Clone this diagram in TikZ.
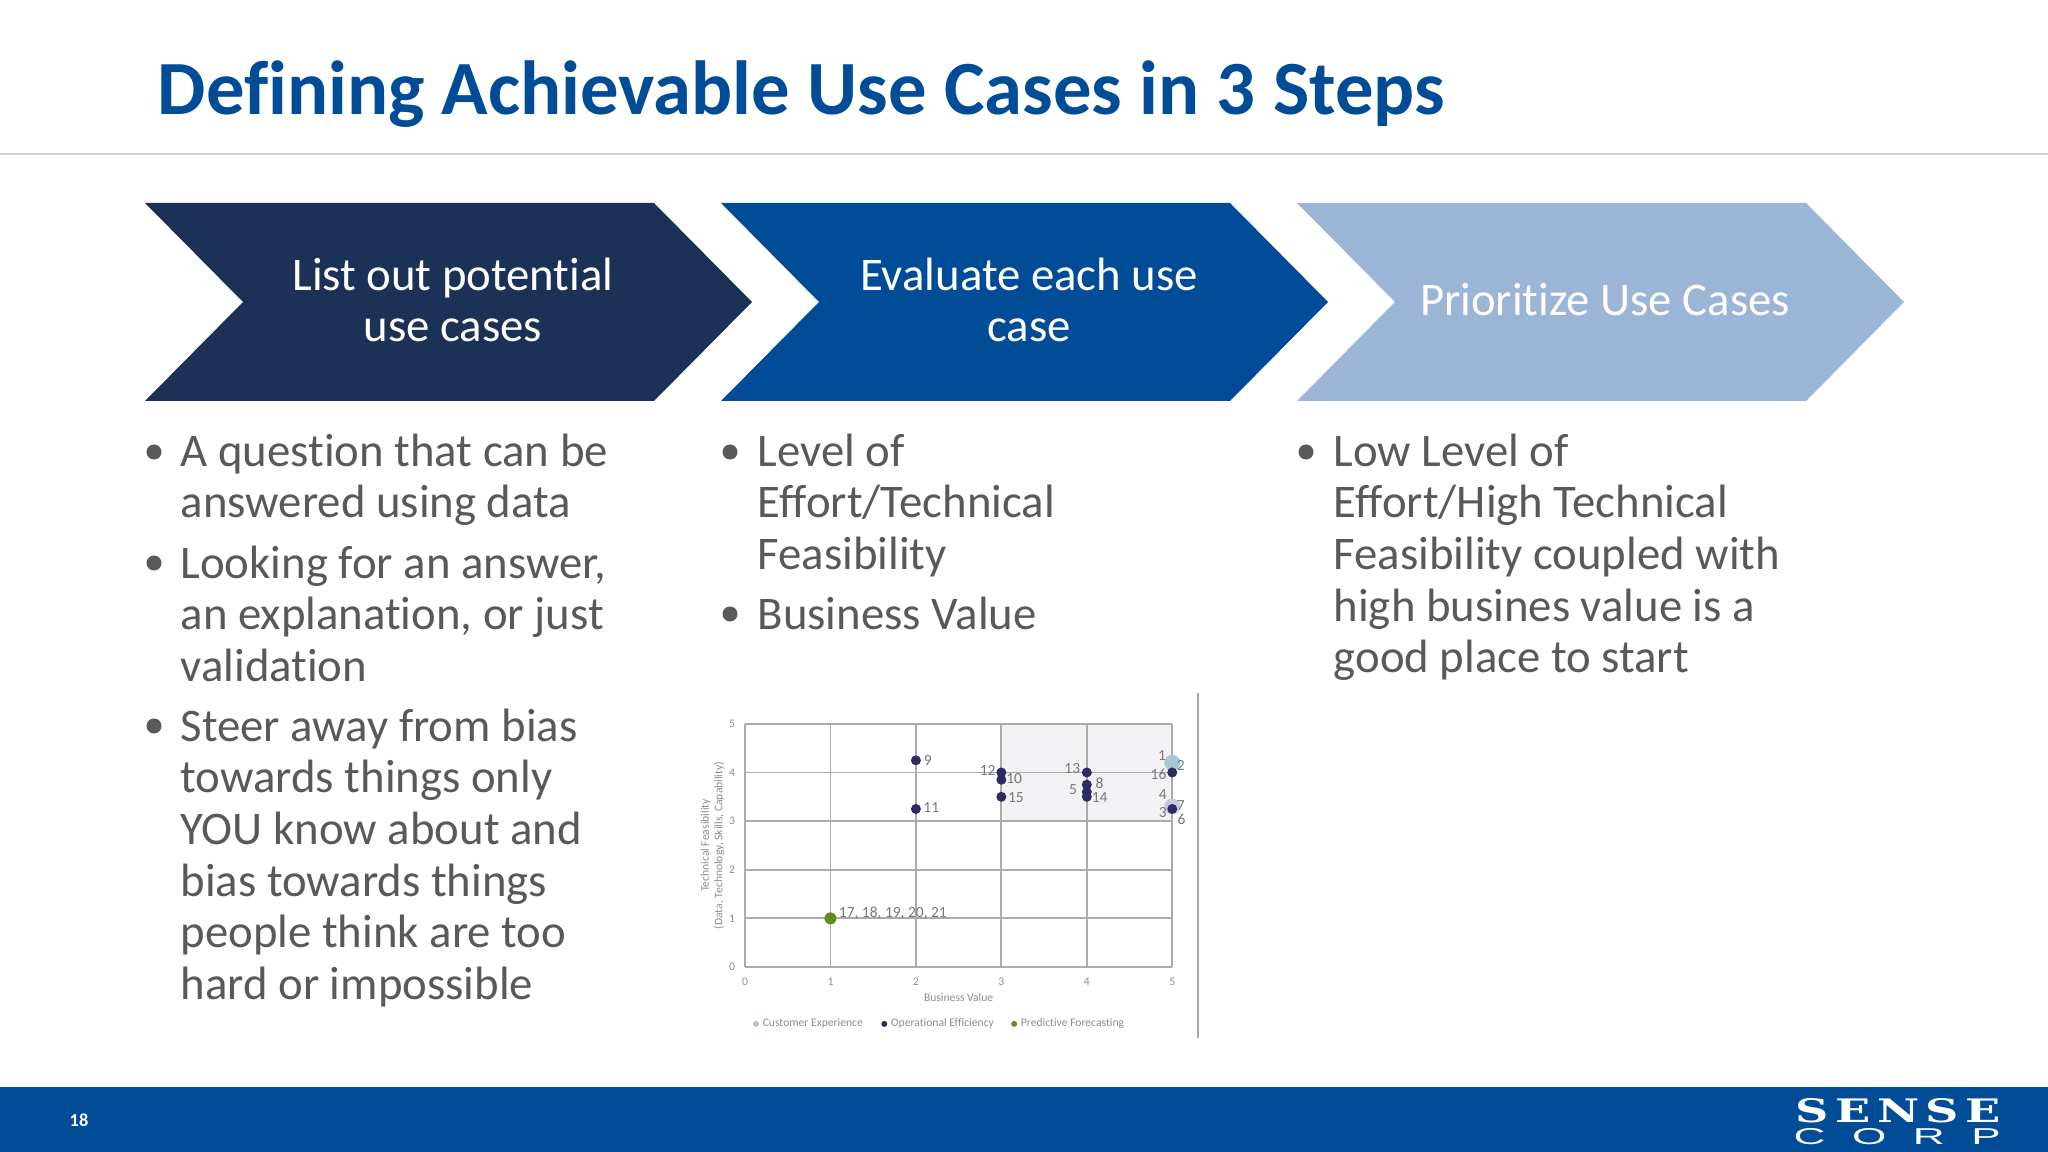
\documentclass[tikz,border=0pt]{standalone}
\usepackage{fontspec}
\setmainfont[Ligatures=NoCommon]{Carlito}
\newfontfamily\logoserif{DejaVu Serif}
\newfontfamily\logosans{Liberation Sans}
\definecolor{brandnavy}{HTML}{1B3155}
\definecolor{brandblue}{HTML}{004C97}
\definecolor{brandpale}{HTML}{9AB5D6}
\definecolor{bodygrey}{HTML}{595959}
\definecolor{gridgrey}{HTML}{ABABAB}
\definecolor{axisgrey}{HTML}{8C8C8C}
\definecolor{bandgrey}{HTML}{F2F2F5}
\definecolor{dotnavy}{HTML}{2E2A63}
\definecolor{dotpale}{HTML}{A9C6D6}
\definecolor{dothalo}{HTML}{C9C6E4}
\definecolor{dotgreen}{HTML}{5E8F1E}
\begin{document}
\begin{tikzpicture}[
        x=0.01cm, y=-0.01cm,
        font=\fontsize{13.3}{14.7}\selectfont,
        steptext/.style={
            text=white, align=center, inner sep=0pt
        },
        itemdot/.style={
            circle, fill=bodygrey, inner sep=0pt, minimum size=0.15cm
        },
        itemtext/.style={
            anchor=north west, text=bodygrey, align=left, inner sep=0pt
        },
        gridline/.style={draw=gridgrey, line width=0.018cm},
        ticklabel/.style={text=axisgrey, font=\fontsize{3.3}{3.8}\selectfont, inner sep=0pt},
        pointlabel/.style={text=axisgrey!85!black, font=\fontsize{4.4}{5}\selectfont, inner sep=0pt},
        pointdot/.style={circle, fill=dotnavy, inner sep=0pt, minimum size=0.1cm}
    ]
    \useasboundingbox (0,0) rectangle (2048,1152);

    % Title and rule
    \node[anchor=west, inner sep=0pt, text=brandblue, font=\fontsize{21.8}{26}\selectfont\bfseries]
        (title) at (157, 94) {Defining Achievable Use Cases in 3 Steps};
    \draw[draw=black!18, line width=0.015cm] (0, 154) -- (2048, 154);

    % Step chevrons
    \fill[brandnavy] (145,203) -- (654,203) -- (752,302) -- (654,401) -- (145,401) -- (243,302) -- cycle;
    \fill[brandblue] (721,203) -- (1230,203) -- (1328,302) -- (1230,401) -- (721,401) -- (819,302) -- cycle;
    \fill[brandpale] (1297,203) -- (1806,203) -- (1904,302) -- (1806,401) -- (1297,401) -- (1395,302) -- cycle;
    \node[steptext] (stepa) at (453, 300) {List out potential\\use cases};
    \node[steptext] (stepb) at (1029, 300) {Evaluate each use\\case};
    \node[steptext] (stepc) at (1605, 300) {Prioritize Use Cases};

    % Left column
    \node[itemdot] (da) at (154, 452) {};
    \node[itemtext] (ia) at (180, 433) {A question that can be\\answered using data};
    \node[itemdot] (db) at (154, 563) {};
    \node[itemtext] (ib) at (180, 545) {Looking for an answer,\\an explanation, or just\\validation};
    \node[itemdot] (dc) at (154, 726) {};
    \node[itemtext] (ic) at (180, 708) {Steer away from bias\\towards things only\\YOU know about and\\bias towards things\\people think are too\\hard or impossible};

    % Middle column
    \node[itemdot] (dd) at (730, 452) {};
    \node[itemtext] (id) at (757, 433) {Level of\\Effort/Technical\\Feasibility};
    \node[itemdot] (de) at (730, 614) {};
    \node[itemtext] (ie) at (757, 596) {Business Value};

    % Right column
    \node[itemdot] (df) at (1306, 452) {};
    \node[itemtext] (if) at (1333, 433) {Low Level of\\Effort/High Technical\\Feasibility coupled with\\high busines value is a\\good place to start};

    % Chart
    \draw[draw=black!35, line width=0.012cm] (1198, 693) -- (1198, 1038);
    \begin{scope}[shift={(745, 967)}, x=0.854cm, y=0.486cm]
        \fill[bandgrey] (3,3) rectangle (5,5);
        \foreach \v in {0,...,5} {
            \draw[gridline] (\v,0) -- (\v,5);
            \draw[gridline] (0,\v) -- (5,\v);
            \node[ticklabel] (tx\v) at (\v,-0.31) {\v};
            \node[ticklabel] (ty\v) at (-0.15,\v) {\v};
        }
        \node[ticklabel] (xname) at (2.5,-0.63) {Business Value};
        \node[ticklabel, rotate=90, align=center] (yname) at (-0.38,2.5)
            {Technical Feasibility\\(Data, Technology, Skills, Capability)};

        % Points
        \node[circle, fill=dotpale, inner sep=0pt, minimum size=0.16cm] (pa) at (5,4.2) {};
        \node[circle, fill=dothalo, inner sep=0pt, minimum size=0.16cm] (pb) at (5,3.3) {};
        \node[pointdot] (pc) at (2,4.25) {};
        \node[pointdot] (pd) at (2,3.25) {};
        \node[pointdot] (pe) at (3,4) {};
        \node[pointdot] (pf) at (3,3.85) {};
        \node[pointdot] (pg) at (3,3.5) {};
        \node[pointdot] (ph) at (4,4) {};
        \node[pointdot] (pi) at (4,3.75) {};
        \node[pointdot] (pj) at (4,3.6) {};
        \node[pointdot] (pk) at (4,3.5) {};
        \node[pointdot] (pl) at (5,4) {};
        \node[pointdot] (pm) at (5,3.25) {};
        \node[circle, fill=dotgreen, inner sep=0pt, minimum size=0.12cm] (pn) at (1,1) {};

        % Point labels
        \node[pointlabel] (la) at (2.14,4.24) {9};
        \node[pointlabel] (lb) at (2.18,3.28) {11};
        \node[pointlabel] (lc) at (2.84,4.04) {12};
        \node[pointlabel] (ld) at (3.15,3.87) {10};
        \node[pointlabel] (le) at (3.17,3.49) {15};
        \node[pointlabel] (lf) at (3.83,4.08) {13};
        \node[pointlabel] (lg) at (4.15,3.78) {8};
        \node[pointlabel] (lh) at (3.84,3.65) {5};
        \node[pointlabel] (li) at (4.15,3.49) {14};
        \node[pointlabel] (lj) at (4.88,4.34) {1};
        \node[pointlabel] (lk) at (5.10,4.14) {2};
        \node[pointlabel] (ll) at (4.84,3.96) {16};
        \node[pointlabel] (lm) at (4.89,3.54) {4};
        \node[pointlabel] (ln) at (5.10,3.33) {7};
        \node[pointlabel] (lo) at (4.89,3.18) {3};
        \node[pointlabel] (lp) at (5.11,3.04) {6};
        \node[pointlabel] (lq) at (1.73,1.11) {17, 18, 19, 20, 21};

        % Legend
        \node[circle, fill=dotpale, inner sep=0pt, minimum size=0.06cm] (ka) at (0.13,-1.17) {};
        \node[ticklabel, anchor=west] (ta) at (0.2,-1.17) {Customer Experience};
        \node[circle, fill=dotnavy, inner sep=0pt, minimum size=0.06cm] (kb) at (1.63,-1.17) {};
        \node[ticklabel, anchor=west] (tb) at (1.7,-1.17) {Operational Efficiency};
        \node[circle, fill=dotgreen, inner sep=0pt, minimum size=0.06cm] (kc) at (3.15,-1.17) {};
        \node[ticklabel, anchor=west] (tc) at (3.22,-1.17) {Predictive Forecasting};
    \end{scope}

    % Footer
    \fill[brandblue] (0,1087) rectangle (2048,1152);
    \node[text=white, inner sep=0pt, font=\fontsize{5.2}{6}\selectfont\bfseries] (page) at (79, 1120) {18};
    \node[anchor=north west, inner sep=0pt, text=white] (sense) at (1795, 1098)
        {\resizebox{2.05cm}{0.24cm}{\logoserif\bfseries\addfontfeature{LetterSpace=14}SENSE}};
    \node[anchor=north west, inner sep=0pt, text=white] (corp) at (1793, 1128)
        {\resizebox{2.07cm}{0.16cm}{\logosans\addfontfeature{LetterSpace=60}CORP}};
\end{tikzpicture}
\end{document}
